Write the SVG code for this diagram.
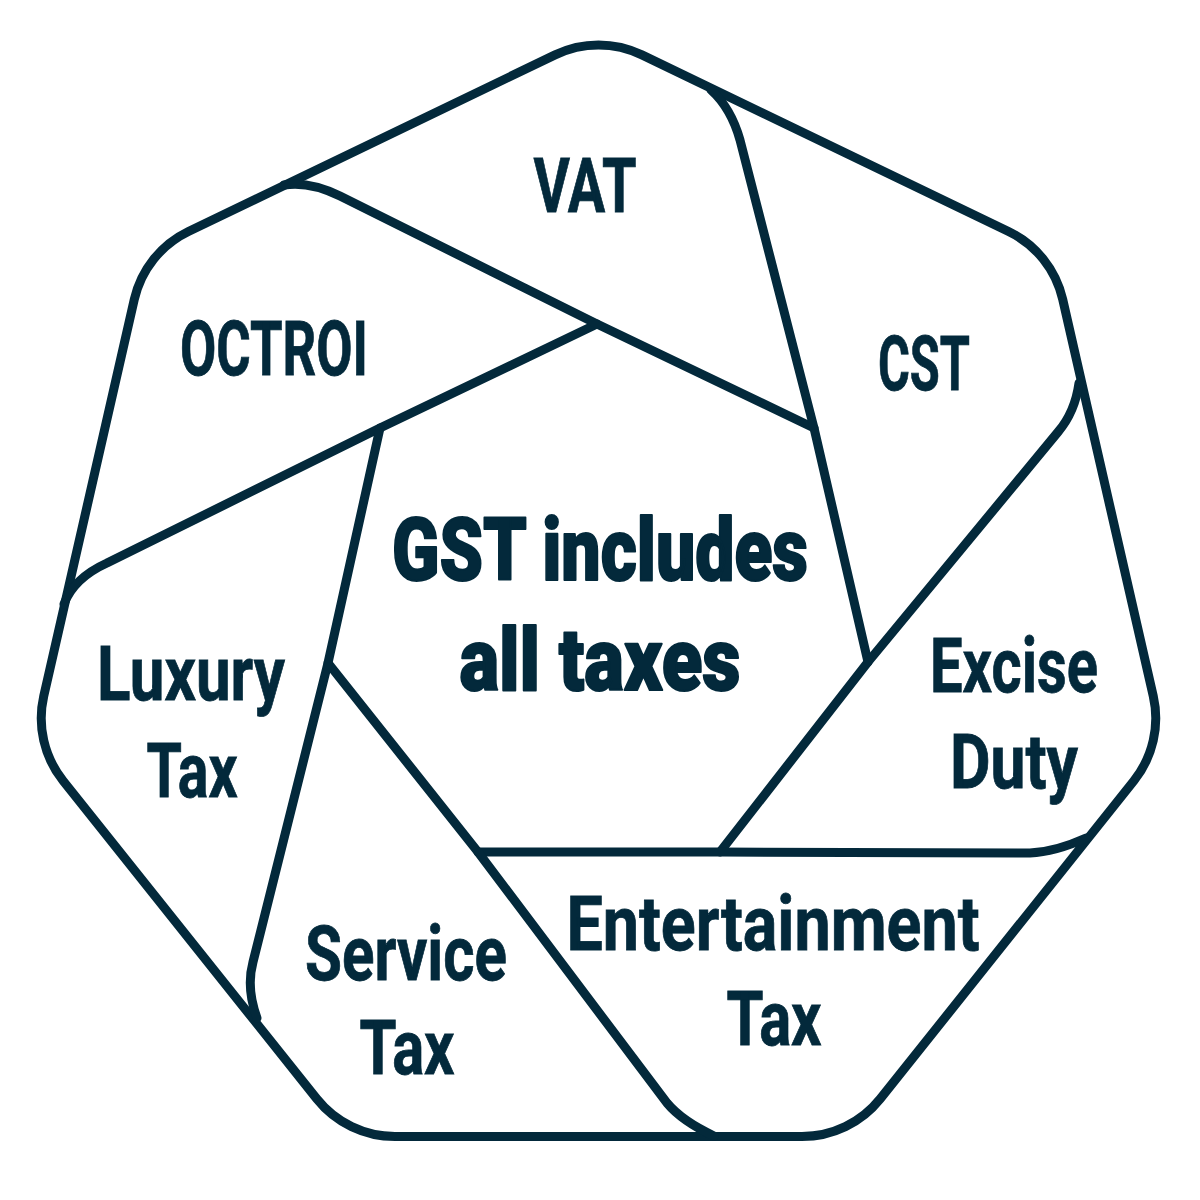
<svg xmlns="http://www.w3.org/2000/svg" width="1200" height="1200" viewBox="0 0 1200 1200">
<style>
.ln{fill:none;stroke:#03293b;stroke-width:9;stroke-linejoin:round;stroke-linecap:round}
.lb{font-family:Roboto,"Liberation Sans",sans-serif;font-weight:700;font-size:76px;fill:#03293b;stroke:#03293b;stroke-width:0.8;text-anchor:middle}
.ct{font-family:Roboto,"Liberation Sans",sans-serif;font-weight:900;font-size:88px;fill:#03293b;stroke:#03293b;stroke-width:2;stroke-linejoin:round;text-anchor:middle}
</style>
<rect width="1200" height="1200" fill="#ffffff"/>
<g id="outline">
<path class="ln" d="M 555.1,54.9 A 100 100 0 0 1 641.9,54.9 L 1008.56,231.48 A 100 100 0 0 1 1062.68,299.34 L 1153.24,696.1 A 100 100 0 0 1 1133.93,780.72 L 880.18,1098.9 A 100 100 0 0 1 801.98,1136.56 L 395.02,1136.56 A 100 100 0 0 1 316.82,1098.9 L 63.07,780.72 A 100 100 0 0 1 43.76,696.1 L 134.32,299.34 A 100 100 0 0 1 188.44,231.48 Z"/>
</g>
<g id="connectors">
<path class="ln" d="M 64,604 Q 74,578 107,563 L 380,428 L 597,324"/>
<path class="ln" d="M 284,185 Q 310,181 340,196 L 597,324 L 814,428"/>
<path class="ln" d="M 711,90 Q 731,108 740,140 L 814,428 L 868,662"/>
<path class="ln" d="M 1079,383 Q 1075,412 1058,432 L 868,662 L 720,852"/>
<path class="ln" d="M 1086,838 Q 1055,852 1030,853 L 720,852 L 478,852"/>
<path class="ln" d="M 714,1136 Q 682,1121 667,1103 L 478,852 L 328,663"/>
<path class="ln" d="M 257,1018 Q 246,988 253,962 L 328,663 L 380,428"/>
</g>
<g id="node-gst"><text class="ct" x="600" y="580" textLength="416" lengthAdjust="spacingAndGlyphs">GST includes</text><text class="ct" x="600" y="690" textLength="281" lengthAdjust="spacingAndGlyphs">all taxes</text></g>
<g id="node-vat"><text class="lb" x="585" y="212" textLength="103" lengthAdjust="spacingAndGlyphs">VAT</text></g>
<g id="node-octroi"><text class="lb" x="274" y="375" textLength="188" lengthAdjust="spacingAndGlyphs">OCTROI</text></g>
<g id="node-cst"><text class="lb" x="924" y="390" textLength="92" lengthAdjust="spacingAndGlyphs">CST</text></g>
<g id="node-excise"><text class="lb" x="1014" y="692" textLength="168" lengthAdjust="spacingAndGlyphs">Excise</text><text class="lb" x="1014" y="788" textLength="128" lengthAdjust="spacingAndGlyphs">Duty</text></g>
<g id="node-luxury"><text class="lb" x="191" y="700" textLength="188" lengthAdjust="spacingAndGlyphs">Luxury</text><text class="lb" x="192" y="797" textLength="91" lengthAdjust="spacingAndGlyphs">Tax</text></g>
<g id="node-service"><text class="lb" x="406" y="980" textLength="202" lengthAdjust="spacingAndGlyphs">Service</text><text class="lb" x="407" y="1074" textLength="95" lengthAdjust="spacingAndGlyphs">Tax</text></g>
<g id="node-entertainment"><text class="lb" x="773" y="950" textLength="413" lengthAdjust="spacingAndGlyphs">Entertainment</text><text class="lb" x="774" y="1045" textLength="95" lengthAdjust="spacingAndGlyphs">Tax</text></g>
</svg>
